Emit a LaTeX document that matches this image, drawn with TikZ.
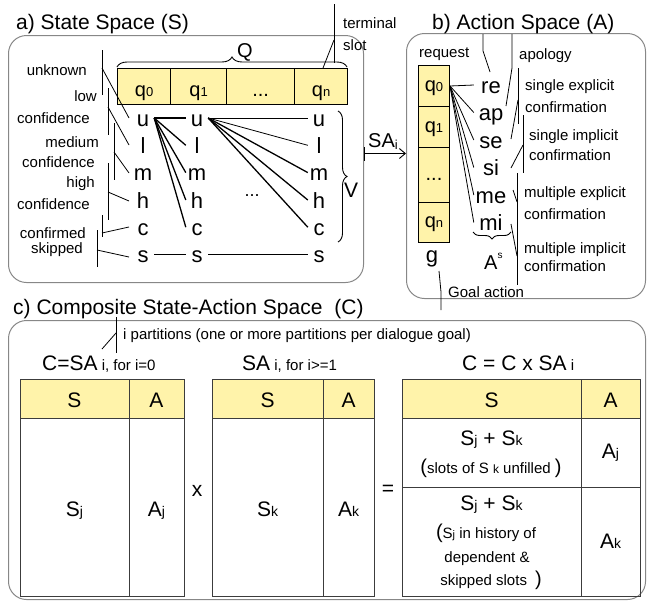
\documentclass[tikz,border=0pt]{standalone}
\usepackage{fontspec}
\setmainfont{Liberation Sans}
\usetikzlibrary{arrows.meta,decorations.pathreplacing}
\definecolor{slotyellow}{RGB}{255,243,170}
\definecolor{panelgray}{RGB}{135,135,135}
\definecolor{tblgray}{RGB}{60,60,60}
\newcommand\fsz[1]{\fontsize{#1}{#1}\selectfont}
\newcommand\subsm[1]{{\fsz{13}#1}}
\newcommand\lo[1]{{\fsz{14}#1}}
\begin{document}
\begin{tikzpicture}[x=1pt,y=-1pt,
  lab/.style={font=\fsz{15},inner sep=0pt,anchor=base west},
  labr/.style={font=\fsz{15},inner sep=0pt,anchor=base east},
  ttl/.style={font=\fsz{21},inner sep=0pt,anchor=base west},
  big/.style={font=\fsz{22},inner sep=0pt,text height=16pt,text depth=0pt,minimum width=22pt,anchor=base},
  act/.style={big,minimum width=34pt},
  panel/.style={draw=panelgray,line width=1pt,rounded corners=18pt,anchor=north west,inner sep=0pt},
  slota/.style={draw=black,line width=1.2pt,fill=slotyellow,inner sep=0pt,font=\fsz{20},minimum height=36pt,text height=20pt,text depth=0pt,anchor=north west},
  slotb/.style={draw=black,line width=1pt,fill=slotyellow,inner sep=0pt,font=\fsz{20},minimum width=31pt,text height=10pt,text depth=0pt,anchor=north west},
  leader/.style={line width=0.8pt},
  fan/.style={line width=1.3pt},
  thinfan/.style={line width=0.8pt},
  tbl/.style={draw=tblgray,line width=1pt},
  tt/.style={font=\fsz{21},inner sep=0pt,anchor=base},
  cl/.style={font=\fsz{15},inner sep=0pt,anchor=base},
  brc/.style={decorate,decoration={brace,amplitude=#1},line width=0.9pt},
]
\useasboundingbox (0,0) rectangle (647,600);

% panels
\node[panel,minimum width=355pt,minimum height=247pt] (pa) at (8,35) {};
\node[panel,minimum width=239pt,minimum height=265pt] (pb) at (406,33) {};
\node[panel,minimum width=637pt,minimum height=279pt] (pc) at (8,320) {};

% titles
\node[ttl] (ta) at (16,29) {a) State Space (S)};
\node[ttl] (tb) at (432,29) {b) Action Space (A)};
\node[ttl] (tc) at (13,314) {c) Composite State-Action Space\hspace{12pt}(C)};

% ---------- panel a ----------
\node[slota,minimum width=53pt] (q0) at (117,68) {q\subsm{0}};
\node[slota,minimum width=56pt] (q1) at (170,68) {q\subsm{1}};
\node[slota,minimum width=68pt] (qd) at (226,68) {...};
\node[slota,minimum width=53pt] (qn) at (294,68) {q\subsm{n}};
\draw[brc=10pt] (117,67) -- (347,67);
\node[font=\fsz{20},inner sep=0pt,anchor=base] (Q) at (245,57) {Q};

\node[lab] (term) at (343,28) {terminal};
\node[lab] (slotl) at (343,50) {slot};
\draw[leader] (334,4) -- (334,63);
\draw[leader] (334,40) -- (323,68);

\foreach \col/\x in {0/143,1/197,n/319}{
  \node[big] (u\col) at (\x,126) {u};
  \node[big] (l\col) at (\x,153.3) {l};
  \node[big] (m\col) at (\x,180.6) {m};
  \node[big] (h\col) at (\x,208) {h};
  \node[big] (c\col) at (\x,235.2) {c};
  \node[big] (s\col) at (\x,262.5) {s};
}
\draw[fan] (u0.east) -- (u1.west);
\draw[fan] (u0.east) -- (l1.west);
\draw[fan] (u0.east) -- (m1.west);
\draw[fan] (u0.east) -- (h1.west);
\draw[fan] (u0.east) -- (c1.west);
\draw[thinfan] (u1.east) -- (un.west);
\draw[thinfan] (u1.east) -- (ln.west);
\draw[fan] (u1.east) -- (mn.west);
\draw[fan] (u1.east) -- (hn.west);
\draw[fan] (u1.east) -- (cn.west);
\draw[fan] (s0.east) -- (s1.west);
\draw[fan] (s1.east) -- (sn.west);
\node[font=\fsz{18},inner sep=0pt,anchor=base] (gdots) at (252,196) {...};

\draw[brc=9pt] (338,111) -- (338,242);
\node[font=\fsz{21},inner sep=0pt,anchor=base] (V) at (351,197) {V};

\node[labr] (lunk) at (87,75) {unknown};
\node[labr] (llow) at (97,101.5) {low};
\node[labr] (lconf1) at (90,123) {confidence};
\node[labr] (lmed) at (99,147) {medium};
\node[labr] (lconf2) at (95,167) {confidence};
\node[labr] (lhigh) at (95,187) {high};
\node[labr] (lconf3) at (90,209) {confidence};
\node[labr] (lcfm) at (86,238) {confirmed};
\node[labr] (lskp) at (83,253) {skipped};

\draw[leader] (102,50) -- (102,95);  \draw[leader] (102,68) -- (129,118);
\draw[leader] (108,88) -- (108,135); \draw[leader] (108,107) -- (129,145);
\draw[leader] (114,123) -- (114,180); \draw[leader] (114,152) -- (129,173);
\draw[leader] (108,163) -- (108,220); \draw[leader] (108,192) -- (129,201);
\draw[leader] (102,215) -- (102,237); \draw[leader] (102,233) -- (129,227);
\draw[leader] (97,230) -- (97,267);  \draw[leader] (97,250) -- (129,257);

% arrow SA_i
\coordinate (sa0) at ([yshift=5.5pt]pa.east);
\draw[line width=0.9pt,{Bar[width=14pt]}-{Straight Barb[length=6pt,width=10pt]}] (sa0) -- (sa0 -| pb.west);
\node[font=\fsz{20},inner sep=0pt,anchor=base west] (salab) at (368,147) {SA\raisebox{-2pt}{\subsm{i}}};

% ---------- panel b ----------
\node[lab] (lreq) at (419,57) {request};
\node[slotb,minimum height=41pt] (bq0) at (418,65) {q\subsm{0}};
\node[slotb,minimum height=41pt] (bq1) at (418,106) {q\subsm{1}};
\node[slotb,minimum height=55pt] (bqd) at (418,147) {...};
\node[slotb,minimum height=40pt] (bqn) at (418,202) {q\subsm{n}};

\node[act] (re) at (491,93) {re};
\node[act] (ap) at (491,120.5) {ap};
\node[act] (se) at (491,148) {se};
\node[act] (si) at (491,175.5) {si};
\node[act] (me) at (491,203) {me};
\node[act] (mi) at (491,230.5) {mi};
\foreach \a in {re,ap,se,si,me,mi} \draw[thinfan] (bq0.east) -- (\a.west);

\node[big] (g) at (432,262) {g};
\node[inner sep=0pt,anchor=base west] (As) at (484,269) {\fsz{20}A\raisebox{11pt}{\fsz{10}s}};
\draw[brc=7pt] (511,232) -- (473,232);

\node[lab] (lapo) at (519,59) {apology};
\node[lab] (lse1) at (525,90) {single explicit};
\node[lab] (lse2) at (525,112) {confirmation};
\node[lab] (lsi1) at (529,140) {single implicit};
\node[lab] (lsi2) at (529,160) {confirmation};
\node[lab] (lme1) at (524,197) {multiple explicit};
\node[lab] (lme2) at (524,219) {confirmation};
\node[lab] (lmi1) at (524,253) {multiple implicit};
\node[lab] (lmi2) at (524,271) {confirmation};
\node[lab] (lgoal) at (448,297) {Goal action};

\draw[leader] (483,34) -- (483,51) -- (490,72);
\draw[leader] (512,34) -- (512,68) -- (506,106);
\draw[leader] (518,68) -- (518,124); \draw[leader] (518,100) -- (511,139);
\draw[leader] (523,115) -- (523,173); \draw[leader] (523,145) -- (511,168);
\draw[leader] (517,173) -- (517,285);
\draw[leader] (513,190) -- (517,202);
\draw[leader] (511,224) -- (517,256);
\draw[leader] (439,271) -- (441,292) -- (441,310);

% ---------- panel c ----------
\node[lab] (lpart) at (123,339) {i partitions (one or more partitions per dialogue goal)};
\draw[leader] (116,317) -- (116,353); \draw[leader] (116,333) -- (102,349);

\node[inner sep=0pt,anchor=base west] (h1) at (42,370) {\fsz{21}C=SA\fsz{15} i, for i=0};
\node[inner sep=0pt,anchor=base west] (h2) at (242,370) {\fsz{21}SA\fsz{15} i, for i>=1};
\node[inner sep=0pt,anchor=base west] (h3) at (462,370) {\fsz{21}C = C x SA\fsz{15} i};

% table 1
\fill[slotyellow] (20,379) rectangle (184,418);
\draw[tbl] (20,379) rectangle (184,596);
\draw[tbl] (20,418) -- (184,418);
\draw[tbl] (129,379) -- (129,596);
% table 2
\fill[slotyellow] (212,379) rectangle (374,418);
\draw[tbl] (212,379) rectangle (374,596);
\draw[tbl] (212,418) -- (374,418);
\draw[tbl] (323,379) -- (323,596);
% table 3
\fill[slotyellow] (402,379) rectangle (640,418);
\draw[tbl] (402,379) rectangle (640,596);
\draw[tbl] (402,418) -- (640,418);
\draw[tbl] (402,487) -- (640,487);
\draw[tbl] (581,379) -- (581,596);

\node[tt] (t1s) at (74.5,407) {S};
\node[tt] (t1a) at (156.5,407) {A};
\node[tt] (t2s) at (267.5,407) {S};
\node[tt] (t2a) at (348.5,407) {A};
\node[tt] (t3s) at (491.5,407) {S};
\node[tt] (t3a) at (610.5,407) {A};

\node[tt] (t1sj) at (74.5,516) {S\lo{j}};
\node[tt] (t1aj) at (156.5,516) {A\lo{j}};
\node[tt] (xop) at (197,496) {x};
\node[tt] (t2sk) at (267.5,516) {S\lo{k}};
\node[tt] (t2ak) at (348.5,516) {A\lo{k}};
\node[font=\fsz{21},inner sep=0pt] (eqop) at (388,490) {=};

\node[tt] (r1a) at (491.5,445) {S\lo{j} + S\lo{k}};
\node[tt] (r1b) at (491,473) {{\fsz{20}(}{\fsz{15}slots of S {\fsz{12}k} unfilled }{\fsz{20})}};
\node[tt] (r1c) at (610.5,458) {A\lo{j}};
\node[tt] (r2a) at (491.5,510) {S\lo{j} + S\lo{k}};
\node[tt] (r2b) at (486,538) {{\fsz{20}(}{\fsz{15}S{\fsz{11}j} in history of}};
\node[cl] (r2c) at (487,562) {dependent \&};
\node[tt] (r2d) at (491,585) {{\fsz{15}skipped slots}\hspace{8pt}{\fsz{20})}};
\node[tt] (r2e) at (610.5,548) {A\lo{k}};
\end{tikzpicture}
\end{document}
